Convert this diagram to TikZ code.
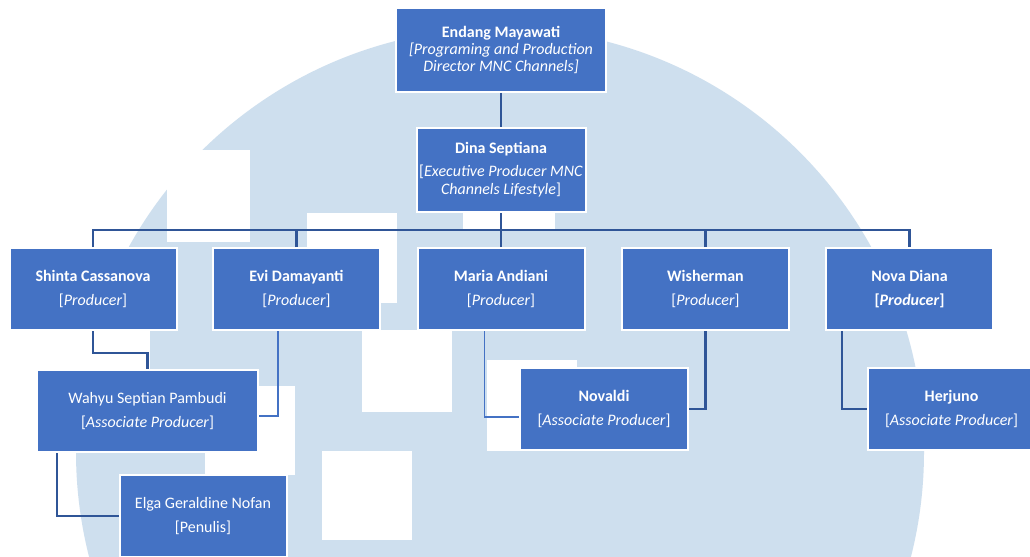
\documentclass[tikz,border=0pt]{standalone}
\usepackage{fontspec}
\setmainfont{Carlito}
\usetikzlibrary{positioning}

\definecolor{boxblue}{HTML}{4472C4}
\definecolor{linkdark}{HTML}{2F5597}
\definecolor{logoblue}{HTML}{CEDFEE}

\tikzset{
  staff/.style={draw=white, line width=1.5pt, fill=boxblue, text=white, align=center,
    inner sep=0pt, minimum width=125.25pt, minimum height=61.5pt,
    font=\fontsize{12}{14.5}\selectfont},
  link/.style={draw=linkdark, line width=2pt},
  thinlink/.style={draw=boxblue, line width=1pt},
}

\begin{document}
\begin{tikzpicture}[x=0.75pt, y=-0.75pt]
          \useasboundingbox (0,0) rectangle (1030,556);

          \begin{scope}
            \fill[white] (0,0) rectangle (1030,556);
            \fill[logoblue] (500,452) circle [radius=318pt];
            \fill[white] (167,150) rectangle (250,242);
            \fill[white] (307,213) rectangle (397,303);
            \fill[white] (463,195) rectangle (555,229);
            \fill[white] (0,290) rectangle (150,400);
            \fill[white] (362,330) rectangle (452,412);
            \fill[white] (487,360) rectangle (577,451);
            \fill[white] (205,386) rectangle (295,475);
            \fill[white] (322,451) rectangle (412,540);
          \end{scope}

          \begin{scope}
            \node (endang) [staff,minimum width=157.5pt,minimum height=63pt,font=\fontsize{12}{13}\selectfont] at (501,50)
              {\textbf{Endang Mayawati}\\\textit{[Programing and Production}\\\textit{Director MNC Channels]}};
            \node (dina) [staff,minimum width=126.75pt,minimum height=63pt,font=\fontsize{12}{13.5}\selectfont] at (501,170)
              {\textbf{Dina Septiana}\\[3.75pt][\textit{Executive Producer MNC}\\\textit{Channels Lifestyle}]};
            \node (shinta) [staff] at (93,289) {\textbf{Shinta Cassanova}\\[3.5pt][\textit{Producer}]};
            \node (evi) [staff] at (296.5,289) {\textbf{Evi Damayanti}\\[3.5pt][\textit{Producer}]};
            \node (maria) [staff] at (501,289) {\textbf{Maria Andiani}\\[3.5pt][\textit{Producer}]};
            \node (wisher) [staff] at (705.5,289) {\textbf{Wisherman}\\[3.5pt][\textit{Producer}]};
            \node (nova) [staff] at (909.5,289) {\textbf{Nova Diana}\\[3.5pt]\textbf{[\textit{Producer}]}};
            \node (wahyu) [staff,minimum width=165.75pt] at (147.5,411) {Wahyu Septian Pambudi\\[3.5pt][\textit{Associate Producer}]};
            \node (elga) [staff] at (203,516) {Elga Geraldine Nofan\\[3.5pt][Penulis]};
            \node (novaldi) [staff,minimum width=126pt] at (604,409) {\textbf{Novaldi}\\[3.5pt][\textit{Associate Producer}]};
            \node (herjuno) [staff] at (951.5,409) {\textbf{Herjuno}\\[3.5pt][\textit{Associate Producer}]};
          \end{scope}

          \coordinate (bus) at (501,230);

          \begin{scope}[link]
            \draw (endang) -- (dina);
            \draw (dina) -- (bus);
            \draw (shinta.north) |- (bus) -| (nova.north);
            \draw (evi.north) -- (evi.north |- bus);
            \draw (maria.north) -- (maria.north |- bus);
            \draw (wisher.north) -- (wisher.north |- bus);
            \draw (shinta.south) -- ++(0,22) -| (wahyu.north);
            \draw ([xshift=15.75pt]wahyu.south west) |- (elga.west);
            \draw (wisher.south) |- (novaldi.east);
            \draw ([xshift=12.75pt]nova.south west) |- (herjuno.west);
          \end{scope}

          \draw[thinlink] ([xshift=-13.9pt]evi.south) |- ([yshift=-3.75pt]wahyu.east);
          \draw[thinlink] ([xshift=51pt]maria.south west) |- ([yshift=-6pt]novaldi.west);
        \end{tikzpicture}
\end{document}
